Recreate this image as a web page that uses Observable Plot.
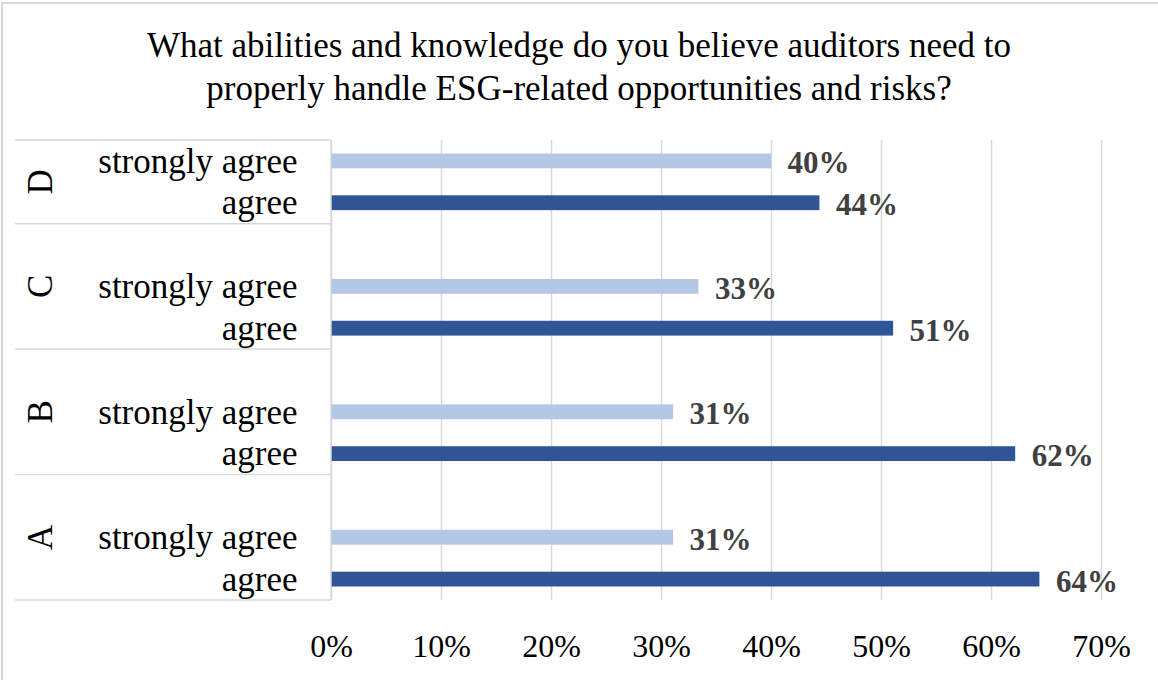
<!DOCTYPE html>
<html>
<head>
<meta charset="utf-8">
<script src="https://cdn.jsdelivr.net/npm/d3@7"></script>
<script src="https://cdn.jsdelivr.net/npm/@observablehq/plot@0.6"></script>
<style>
  html, body { margin: 0; padding: 0; background: #fff; }
  #wrap { position: relative; width: 1158px; height: 680px; overflow: hidden; font-family: "Liberation Serif", "Times New Roman", serif; background: #fff; }
  #frame { position: absolute; left: 1px; top: 2px; width: 1200px; height: 720px; border-left: 2px solid #D9D9D9; border-top: 2px solid #D9D9D9; }
  #title { position: absolute; left: 0; top: 24px; width: 1158px; text-align: center; font-size: 35px; line-height: 43px; color: #000; }
  #chart { position: absolute; left: 0; top: 125px; }
</style>
</head>
<body>
<div id="wrap">
  <div id="frame"></div>
  <div id="title">What abilities and knowledge do you believe auditors need to<br>properly handle ESG-related opportunities and risks?</div>
  <div id="chart"></div>
</div>
<script>
// ---- Data ----
const groups = ["D", "C", "B", "A"];              // top to bottom
const responses = ["strongly agree", "agree"];
const stronglyAgree = [0.40, 0.334, 0.311, 0.311]; // D, C, B, A
const agree = [0.444, 0.511, 0.622, 0.644];        // D, C, B, A
const xTicks = [0, 0.1, 0.2, 0.3, 0.4, 0.5, 0.6, 0.7];
const colors = { "strongly agree": "#B4C7E7", "agree": "#2F5597" };

// ---- Build table ----
const rows = [];
groups.forEach((g, i) => {
  rows.push({ group: g, response: "strongly agree", value: stronglyAgree[i] });
  rows.push({ group: g, response: "agree", value: agree[i] });
});
const key = (g, r) => g + "|" + r;
const domain = [];
groups.forEach((g, i) => {
  if (i > 0) domain.push(key(g, "gap"));
  responses.forEach(r => domain.push(key(g, r)));
});
rows.forEach(d => d.key = key(d.group, d.response));

const W = 1158, H = 555;
const fmt = d3.format(".0%");

const plot = Plot.plot({
  width: W,
  height: H,
  marginTop: 15,
  marginBottom: 80,
  marginLeft: 331,
  marginRight: 57,
  style: { fontFamily: '"Liberation Serif", "Times New Roman", serif', background: "transparent", overflow: "visible" },
  x: { domain: [0, 0.7] },
  y: { type: "band", domain, padding: 0, round: false },
  marks: [
    Plot.gridX(xTicks, { stroke: "#D9D9D9", strokeOpacity: 1, strokeWidth: 1.5 }),
    Plot.barX(rows, {
      x: "value", y: "key",
      fill: d => colors[d.response],
      insetTop: 13.5, insetBottom: 13.5
    }),
    Plot.text(rows, {
      x: "value", y: "key",
      text: d => fmt(d.value),
      textAnchor: "start", dx: 16, dy: 2,
      fontWeight: "bold", fontSize: 31, fill: "#404040"
    }),
    Plot.axisX({
      ticks: xTicks, tickFormat: fmt, tickSize: 0, tickPadding: 34,
      fontSize: 32, color: "#000", label: null
    }),
    Plot.axisY({
      tickFormat: k => k.split("|")[1] === "gap" ? "" : k.split("|")[1],
      tickSize: 0, tickPadding: 34, fontSize: 35, color: "#000", label: null
    })
  ]
});
document.getElementById("chart").appendChild(plot);

// ---- Category-axis separators and group labels, positioned via the plot's y scale ----
const ys = plot.scale("y");
const bw = ys.bandwidth;
const svg = d3.select(plot);
const g = svg.append("g");
const yTop = ys.apply(domain[0]);
const sepX1 = 15, sepX2 = 331;
g.append("line").attr("x1", sepX1).attr("x2", sepX2).attr("y1", yTop).attr("y2", yTop)
  .attr("stroke", "#D9D9D9").attr("stroke-width", 1.5);
let prevBottom = yTop;
groups.forEach(grp => {
  const bottom = ys.apply(key(grp, "agree")) + bw;
  g.append("line").attr("x1", sepX1).attr("x2", sepX2).attr("y1", bottom).attr("y2", bottom)
    .attr("stroke", "#D9D9D9").attr("stroke-width", 1.5);
  const cy = (prevBottom + bottom) / 2;
  g.append("text")
    .attr("transform", `translate(40,${cy}) rotate(-90)`)
    .attr("text-anchor", "middle").attr("dy", "0.35em")
    .attr("font-size", 35).attr("fill", "#000")
    .text(grp);
  prevBottom = bottom;
});
// vertical category axis line
g.append("line").attr("x1", 331).attr("x2", 331).attr("y1", yTop).attr("y2", prevBottom)
  .attr("stroke", "#D9D9D9").attr("stroke-width", 1.5);
</script>
</body>
</html>
